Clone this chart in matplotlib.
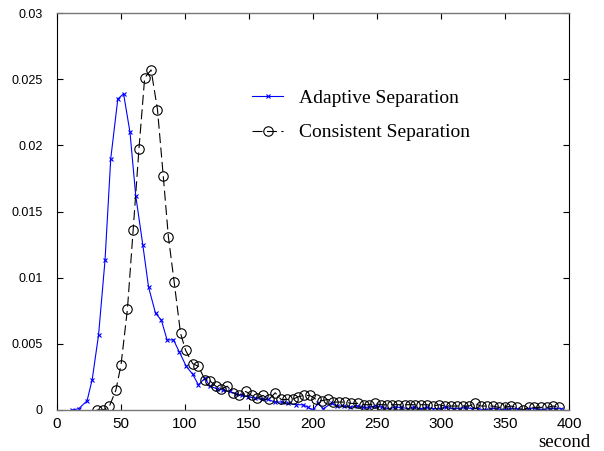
import matplotlib
matplotlib.use("Agg")
import matplotlib.pyplot as plt

# Adaptive Separation (blue, x markers)
adaptive_x = [12, 17, 23.5, 27.5, 32.5, 37.5, 42, 47.5, 52, 57, 61.5, 67, 71.5, 77,
              81.5, 86, 91, 95.5, 101, 106, 110.5, 115.5, 119.5, 125, 130, 135, 140,
              144.5, 149.5, 154.5, 160, 165, 170, 175.5, 180.5, 187, 192, 196, 200,
              204, 208, 214.5, 219, 224, 229, 234, 239, 244, 249, 254, 259, 264, 269,
              274, 279, 284, 289, 294, 299, 304, 309, 314, 319, 324, 329, 334, 339,
              344, 349, 354, 359, 364, 369, 374, 379, 384, 389, 394]
adaptive_y = [0.0000, 0.0001, 0.0007, 0.0023, 0.0057, 0.0113, 0.0190, 0.0235, 0.0239,
              0.0210, 0.0162, 0.0125, 0.0093, 0.0073, 0.0068, 0.0053, 0.0053, 0.0044,
              0.0033, 0.0027, 0.0019, 0.0024, 0.0018, 0.0016, 0.0015, 0.0014, 0.0012,
              0.0011, 0.0010, 0.0009, 0.0008, 0.0008, 0.0006, 0.0006, 0.0005, 0.0004,
              0.0004, 0.0002, 0.0000, 0.0005, 0.0001, 0.0005, 0.0003, 0.0003, 0.0002,
              0.0003, 0.0002, 0.0002, 0.0003, 0.0002, 0.0001, 0.0002, 0.0002, 0.0001,
              0.0002, 0.0001, 0.0002, 0.0001, 0.0001, 0.0002, 0.0001, 0.0001, 0.0002,
              0.0001, 0.0001, 0.0000, 0.0001, 0.0001, 0.0000, 0.0001, 0.0001, 0.0000,
              0.0001, 0.0001, 0.0000, 0.0001, 0.0001, 0.0001]

# Consistent Separation (black dashed, circle markers)
consistent_x = [31, 36, 41, 46, 50, 55, 59.5, 64, 68.5, 73.5, 78.5, 83, 87, 91.5, 96.5,
                100.5, 106, 110.5, 115.5, 119.5, 124, 128.5, 133, 137.5, 142.5, 147.5,
                152, 156, 161, 165.5, 170.5, 175, 179.5, 184, 188.5, 193, 197.5, 202.5,
                207, 211.5, 216, 220.5, 225, 230, 235, 240, 244, 248.5, 253, 257.5, 262,
                266.5, 271.5, 276, 280, 284.5, 289, 294, 298.5, 303, 308, 312.5, 317,
                322, 326.5, 331, 336, 340.5, 345, 350, 354.5, 359, 364, 368.5, 373,
                378, 383, 387.5, 392]
consistent_y = [0.0000, 0.0000, 0.0003, 0.0015, 0.0034, 0.0076, 0.0136, 0.0197, 0.0251,
                0.0257, 0.0227, 0.0177, 0.0131, 0.0097, 0.0058, 0.0045, 0.0035, 0.0033,
                0.0023, 0.0022, 0.0018, 0.0016, 0.0018, 0.0013, 0.0011, 0.0014, 0.0011,
                0.0009, 0.0011, 0.0008, 0.0013, 0.0008, 0.0008, 0.0008, 0.0010, 0.0011,
                0.0011, 0.0008, 0.0007, 0.0008, 0.0006, 0.0006, 0.0006, 0.0005, 0.0005,
                0.0004, 0.0004, 0.0005, 0.0004, 0.0004, 0.0004, 0.0004, 0.0004, 0.0004,
                0.0004, 0.0004, 0.0004, 0.0003, 0.0004, 0.0003, 0.0003, 0.0003, 0.0003,
                0.0003, 0.0005, 0.0003, 0.0003, 0.0003, 0.0002, 0.0002, 0.0003, 0.0002,
                0.0000, 0.0002, 0.0002, 0.0002, 0.0002, 0.0003, 0.0002]

x_ticks = [0, 50, 100, 150, 200, 250, 300, 350, 400]
y_ticks = [0, 0.005, 0.01, 0.015, 0.02, 0.025, 0.03]
y_tick_labels = ["0", "0.005", "0.01", "0.015", "0.02", "0.025", "0.03"]

SERIF = ["Liberation Serif", "DejaVu Serif"]
SANS = ["Liberation Sans", "DejaVu Sans"]

fig = plt.figure(figsize=(6.04, 4.51), dpi=100)
ax = fig.add_axes([57 / 604, 1 - 410 / 451, 512 / 604, 397 / 451])

ax.plot(adaptive_x, adaptive_y, color="#0000ff", lw=0.8, marker="x", ms=3.5,
        mew=0.8, label="Adaptive Separation")
ax.plot(consistent_x, consistent_y, color="black", lw=0.8, ls=(0, (9, 4)),
        marker="o", ms=6.8, mfc="none", mew=0.8, label="Consistent Separation")

ax.set_xlim(0, 400)
ax.set_ylim(0, 0.03)
ax.set_xticks(x_ticks)
ax.set_yticks(y_ticks)
ax.set_yticklabels(y_tick_labels)
ax.tick_params(direction="in", length=4, width=0.8, top=True, right=True)
ax.tick_params(axis="x", labelsize=11, pad=5)
ax.tick_params(axis="y", labelsize=9, pad=10.5)
for lab in ax.get_xticklabels() + ax.get_yticklabels():
    lab.set_family(SANS)

for side in ["left", "right"]:
    ax.spines[side].set_color("black")
    ax.spines[side].set_linewidth(0.8)
for side in ["top", "bottom"]:
    ax.spines[side].set_color("#777777")
    ax.spines[side].set_linewidth(1.0)

ax.set_xlabel("second", fontsize=13.5, family=SERIF)
ax.xaxis.set_label_coords(0.99, -0.06)

ax.legend(loc="upper left", bbox_to_anchor=(0.381, 0.807), frameon=False,
          prop={"family": SERIF, "size": 14}, numpoints=1, handlelength=1.6,
          handletextpad=0.8, labelspacing=0.85, borderpad=0, borderaxespad=0)

fig.savefig("out.png", dpi=100)
